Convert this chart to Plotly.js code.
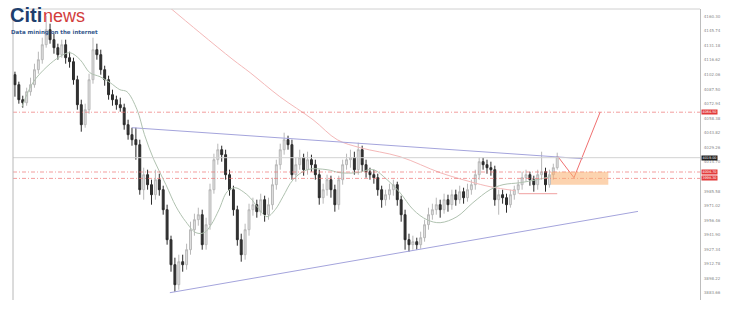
<!DOCTYPE html>
<html>
<head>
<meta charset="utf-8">
<script src="https://cdn.plot.ly/plotly-3.0.1.min.js"></script>
<style>
html,body{margin:0;padding:0;background:#fff;}
#chart{width:743px;height:311px;}
</style>
</head>
<body>
<div id="chart"></div>
<script>
// ---- candle data (bar index, price) ----
const opens = [4102,4092,4077,4074,4085,4092,4107,4117,4132,4147,
4137,4129,4122,4132,4119,4115,4097,4072,4052,4067,
4097,4127,4122,4107,4097,4082,4077,4072,4069,4052,
4042,4037,4032,3987,4002,3992,3982,3997,3987,3967,
3937,3912,3892,3915,3912,3927,3947,3957,3962,3932,
3952,3987,4017,4027,4022,4002,3987,3967,3937,3922,
3947,3967,3972,3965,3977,3962,3972,3992,4012,4027,
4037,4032,4002,4012,4019,4007,4017,4012,4002,3979,
3987,3997,3987,3972,3997,4012,4017,4019,4007,4027,
4012,4005,4002,3999,3987,3977,3982,3987,3992,3977,
3962,3937,3932,3935,3932,3939,3952,3962,3967,3972,
3967,3977,3972,3982,3977,3985,3979,3987,3992,4002,
4015,4012,4009,4007,3977,3982,3979,3972,3982,3987,
3992,3999,4002,3997,3992,4002,4005,3992,4002,4009];
const closes = [4092,4077,4074,4085,4092,4107,4117,4132,4147,4137,
4129,4122,4132,4119,4115,4097,4072,4052,4067,4097,
4127,4122,4107,4097,4082,4077,4072,4069,4052,4042,
4037,4032,3987,4002,3992,3982,3997,3987,3967,3937,
3912,3892,3915,3912,3927,3947,3957,3962,3932,3952,
3987,4017,4027,4022,4002,3987,3967,3937,3922,3947,
3967,3972,3965,3977,3962,3972,3992,4012,4027,4037,
4032,4002,4012,4019,4007,4017,4012,4002,3979,3987,
3997,3987,3972,3997,4012,4017,4019,4007,4027,4012,
4005,4002,3999,3987,3977,3982,3987,3992,3977,3962,
3937,3932,3935,3932,3939,3952,3962,3967,3972,3967,
3977,3972,3982,3977,3985,3979,3987,3992,4002,4015,
4012,4009,4007,3977,3982,3979,3972,3982,3987,3992,
3999,4002,3997,3992,4002,4005,3992,4002,4009,4020];
const highs = [4105,4095,4081,4089,4099,4113,4125,4139,4161,4153,
4143,4133,4137,4137,4125,4119,4101,4077,4073,4103,
4139,4133,4127,4111,4101,4087,4081,4079,4073,4057,
4049,4049,4037,4009,4007,3997,4007,4003,3991,3972,
3941,3919,3922,3922,3933,3955,3963,3969,3967,3959,
3993,4023,4033,4031,4027,4007,3991,3971,3943,3953,
3973,3979,3977,3983,3981,3979,3999,4017,4033,4044,
4041,4037,4019,4027,4023,4025,4022,4017,4007,3993,
4002,4001,3992,4001,4017,4023,4027,4025,4034,4031,
4017,4009,4007,4003,3991,3987,3993,3997,3995,3981,
3967,3943,3941,3939,3945,3957,3969,3973,3979,3977,
3983,3982,3987,3987,3991,3989,3993,3997,4007,4019,
4019,4017,4015,4011,3987,3987,3983,3987,3991,3997,
4005,4007,4005,4001,4007,4025,4009,4007,4013,4024];
const lows = [4080,4073,4069,4071,4081,4089,4103,4113,4129,4133,
4123,4117,4119,4113,4109,4092,4067,4045,4049,4063,
4093,4117,4102,4091,4077,4071,4067,4065,4047,4037,
4031,4017,3982,3977,3987,3972,3977,3981,3962,3932,
3905,3885,3887,3905,3907,3922,3941,3951,3927,3927,
3947,3983,4012,4015,3997,3981,3961,3931,3915,3917,
3941,3961,3959,3961,3955,3957,3967,3987,4007,4022,
4027,3997,3995,4007,4001,4002,4005,3997,3972,3973,
3981,3979,3965,3967,3992,4007,4009,4002,4002,4005,
3999,3997,3993,3981,3969,3971,3977,3981,3971,3955,
3927,3925,3927,3927,3928,3935,3947,3957,3962,3959,
3963,3965,3967,3971,3973,3973,3975,3982,3987,3997,
4007,4003,4001,3971,3962,3973,3964,3969,3977,3983,
3987,3995,3991,3985,3987,3997,3985,3989,3997,4007];
const barIndex = opens.map((_, i) => i);

// ---- moving averages ----
const maShortX = [1.8,4.6,8.2,11.5,14.1,16.7,19.2,21.8,24.4,26.9,28.7,31.3,33.2,35.6,38.7,41.3,43.8,46.4,48.5,50.3,52.3,54.4,56.4,58.5,60.3,62.3,64.6,66.7,68.7,71.3,74.9,80.0,83.3,87.7,91.8,95.4,98.7,102.1,105.6,109.0,113.3,117.4,121.8,125.1,129.5,133.8,137.2];
const maShortY = [4070,4094,4110,4120,4124,4117,4104,4100,4094,4087,4085,4067,4042,4017,3992,3970,3955,3944,3944,3952,3967,3985,3989,3985,3979,3969,3960,3967,3980,3997,4007,4007,4004,4004,4007,3997,3984,3967,3957,3954,3960,3974,3987,3992,3994,3997,4000];
const maLongX = [38.5,47.4,55.9,60.3,67.9,76.4,82.6,88.5,98.7,109.0,116.7,121.8,128.2];
const maLongY = [4173,4144,4117,4104,4080,4057,4037,4029,4020,4004,3995,3990,3986];

// ---- drawn levels / trendlines ----
const resistanceLevel = 4064.5;
const currentPrice = 4019;
const zoneTop = 4004.7;
const zoneBottom = 3998.3;
const upperTrendX = [30, 145.6];
const upperTrendY = [4049, 4018];
const lowerTrendX = [39.7, 159.7];
const lowerTrendY = [3884, 3965.3];
const projectionX = [139.2, 143.3, 150];
const projectionY = [4020, 3999, 4064.5];
const boxX = [137.4, 152.1];
const boxY = [3992, 4005];
const swingLowX = [129.2, 139];
const swingLowY = [3983, 3983];

// tick at 4000.14 is hidden behind the price tags in the original, so it is left out
const tickVals = [4160.30,4145.74,4131.18,4116.62,4102.06,4087.50,4072.94,4058.38,4043.82,4029.26,4014.70,3985.58,3971.02,3956.46,3941.90,3927.34,3912.78,3898.22,3883.66];
const tickText = ["4160.30","4145.74","4131.18","4116.62","4102.06","4087.50","4072.94","4058.38","4043.82","4029.26","4014.70","3985.58","3971.02","3956.46","3941.90","3927.34","3912.78","3898.22","3883.66"];

const traces = [
  {type:'scatter', mode:'lines', x:maLongX, y:maLongY, line:{color:'#f4b8b8', width:1, shape:'spline'}, hoverinfo:'skip'},
  {type:'scatter', mode:'lines', x:upperTrendX, y:upperTrendY, line:{color:'#a4a4dc', width:1}, hoverinfo:'skip'},
  {type:'scatter', mode:'lines', x:lowerTrendX, y:lowerTrendY, line:{color:'#a4a4dc', width:1}, hoverinfo:'skip'},
  {type:'candlestick', x:barIndex, open:opens, high:highs, low:lows, close:closes,
   increasing:{line:{color:'#b8b8b8', width:1}, fillcolor:'#e2e2e2'},
   decreasing:{line:{color:'#2a2a2a', width:1}, fillcolor:'#333333'},
   whiskerwidth:0, hoverinfo:'skip'},
  {type:'scatter', mode:'lines', x:maShortX, y:maShortY, line:{color:'#b0c2b0', width:1, shape:'spline'}, hoverinfo:'skip'},
  {type:'scatter', mode:'lines', x:projectionX, y:projectionY, line:{color:'#f07070', width:1}, hoverinfo:'skip'},
  {type:'scatter', mode:'lines', x:swingLowX, y:swingLowY, line:{color:'#f0a0a0', width:1}, hoverinfo:'skip'}
];

const dashStyle = '4px,2px,1px,2px';
const shapes = [
  {type:'line', xref:'paper', x0:0, x1:1, yref:'y', y0:resistanceLevel, y1:resistanceLevel, line:{color:'#ee7272', width:0.7, dash:dashStyle}},
  {type:'line', xref:'paper', x0:0, x1:1, yref:'y', y0:currentPrice, y1:currentPrice, line:{color:'#d2d2d2', width:1}},
  {type:'line', xref:'paper', x0:0, x1:1, yref:'y', y0:zoneTop, y1:zoneTop, line:{color:'#ee7272', width:0.7, dash:dashStyle}},
  {type:'line', xref:'paper', x0:0, x1:1, yref:'y', y0:zoneBottom, y1:zoneBottom, line:{color:'#ee7272', width:0.7, dash:dashStyle}},
  {type:'rect', xref:'x', x0:boxX[0], x1:boxX[1], yref:'y', y0:boxY[0], y1:boxY[1], fillcolor:'rgba(250,175,110,0.55)', line:{width:0}, layer:'above'},
  {type:'line', xref:'paper', x0:0, x1:0, yref:'paper', y0:0, y1:1, line:{color:'#b8b8b8', width:1}},
  {type:'line', xref:'paper', x0:0, x1:1, yref:'paper', y0:1, y1:1, line:{color:'#d0d0d0', width:1}}
];

function priceTag(v, bg){
  return {xref:'paper', x:1.002, xanchor:'left', yref:'y', y:v, yanchor:'middle', text:v.toFixed(2),
    showarrow:false, font:{size:3.4, color:'#ffffff', family:'DejaVu Sans'}, bgcolor:bg, borderpad:0, width:15, height:4.4};
}

const annotations = [
  priceTag(resistanceLevel, '#e23b3b'),
  priceTag(currentPrice, '#1e1e1e'),
  priceTag(zoneTop, '#e23b3b'),
  priceTag(zoneBottom, '#e23b3b'),
  {xref:'paper', x:-0.006, xanchor:'left', yref:'paper', y:0.938, yanchor:'bottom', text:'<b>Citi</b>', showarrow:false,
   font:{size:20, color:'#1f3f6e', family:'Liberation Sans'}, borderpad:0},
  {xref:'paper', x:0.042, xanchor:'left', yref:'paper', y:0.938, yanchor:'bottom', text:'news', showarrow:false,
   font:{size:18, color:'#d23c3c', family:'Liberation Sans'}, borderpad:0},
  {xref:'paper', x:-0.005, xanchor:'left', yref:'paper', y:0.935, yanchor:'top', text:'<b>Data mining on the internet</b>', showarrow:false,
   font:{size:5.5, color:'#35588c', family:'DejaVu Sans'}, borderpad:0}
];

const layout = {
  width:743, height:311,
  margin:{l:13, r:43, t:9, b:11},
  paper_bgcolor:'#ffffff', plot_bgcolor:'#ffffff',
  showlegend:false,
  xaxis:{range:[-0.5,175.6], showgrid:false, zeroline:false, showticklabels:false, ticks:'', showline:false, rangeslider:{visible:false}, fixedrange:true},
  yaxis:{side:'right', range:[3876.7,4167.7], showgrid:false, zeroline:false, showline:true, linecolor:'#bdbdbd', linewidth:1,
    tickvals:tickVals, ticktext:tickText, ticks:'', ticklabelstandoff:2,
    tickfont:{size:4, color:'#8a8a8a', family:'DejaVu Sans'}, fixedrange:true},
  shapes:shapes,
  annotations:annotations
};

Plotly.newPlot('chart', traces, layout, {displayModeBar:false, staticPlot:true});
</script>
</body>
</html>
